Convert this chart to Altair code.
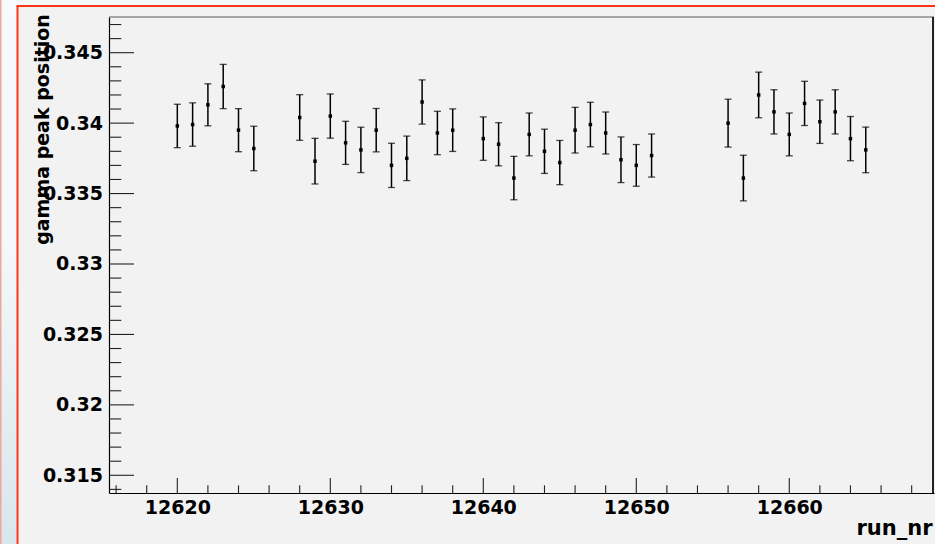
import altair as alt
import pandas as pd

# run numbers and fitted gamma peak positions with their uncertainties
runs = [12620, 12621, 12622, 12623, 12624, 12625,
        12628, 12629, 12630, 12631, 12632, 12633, 12634, 12635, 12636, 12637, 12638,
        12640, 12641, 12642, 12643, 12644, 12645, 12646, 12647, 12648, 12649, 12650, 12651,
        12656, 12657, 12658, 12659, 12660, 12661, 12662, 12663, 12664, 12665]
peak = [0.3398, 0.3399, 0.3413, 0.3426, 0.3395, 0.3382,
        0.3404, 0.3373, 0.3405, 0.3386, 0.3381, 0.3395, 0.3370, 0.3375, 0.3415, 0.3393, 0.3395,
        0.3389, 0.3385, 0.3361, 0.3392, 0.3380, 0.3372, 0.3395, 0.3399, 0.3393, 0.3374, 0.3370, 0.3377,
        0.3400, 0.3361, 0.3420, 0.3408, 0.3392, 0.3414, 0.3401, 0.3408, 0.3389, 0.3381]
err = [0.00154, 0.00154, 0.00149, 0.00157, 0.00153, 0.00158,
       0.00162, 0.00162, 0.00157, 0.00153, 0.00161, 0.00154, 0.00157, 0.00158, 0.00157, 0.00154, 0.00151,
       0.00154, 0.00153, 0.00154, 0.00152, 0.00157, 0.00157, 0.00162, 0.00158, 0.00149, 0.00162, 0.00148, 0.00153,
       0.00170, 0.00162, 0.00162, 0.00157, 0.00152, 0.00157, 0.00154, 0.00157, 0.00157, 0.00162]

# axis tick values
x_major = [12620, 12630, 12640, 12650, 12660]
x_minor = [v for v in range(12616, 12670, 2) if v not in x_major]
y_major = [0.315, 0.32, 0.325, 0.33, 0.335, 0.34, 0.345]
y_minor = [round(0.314 + 0.001 * i, 3) for i in range(34)]
y_minor = [v for v in y_minor if all(abs(v - m) > 1e-9 for m in y_major)]

X_DOMAIN = [12615.535, 12669.46]
Y_DOMAIN = [0.313743, 0.347534]
W, H = 825, 476
FONT = "DejaVu Sans"

df = pd.DataFrame({"run": runs, "peak": peak, "err": err})
df["lo"] = df["peak"] - df["err"]
df["hi"] = df["peak"] + df["err"]

xs = alt.Scale(domain=X_DOMAIN, nice=False, zero=False)
ys = alt.Scale(domain=Y_DOMAIN, nice=False, zero=False)

x_axis = alt.Axis(values=x_major, format="d", tickSize=0, labelPadding=5,
                  labelFont=FONT, labelFontWeight="bold", labelFontSize=19, labelColor="black",
                  domainColor="black", domainWidth=1.2, grid=False,
                  title="run_nr", titleFont=FONT, titleFontWeight="bold", titleFontSize=21,
                  titleColor="black", titleAlign="right", titleAnchor="end",
                  titleX=W - 2, titleY=41, titleBaseline="alphabetic")
y_axis = alt.Axis(values=y_major, format=".3~f", tickSize=0, labelPadding=6.5,
                  labelFont=FONT, labelFontWeight="bold", labelFontSize=19, labelColor="black",
                  domainColor="black", domainWidth=1.2, grid=False,
                  title="gamma peak position", titleFont=FONT, titleFontWeight="bold",
                  titleFontSize=19, titleColor="black", titleAngle=270,
                  titleAlign="center", titleBaseline="alphabetic",
                  titleX=-60.5, titleY=112)


def X(field):
    return alt.X(field, type="quantitative", scale=xs, axis=x_axis, title="run_nr")


def Y(field):
    return alt.Y(field, type="quantitative", scale=ys, axis=y_axis, title="gamma peak position")


one = alt.Data(values=[{}])

# canvas decoration: light border strips and red frame
top_strip = alt.Chart(one).mark_rect(color="#f4f8f9", clip=False).encode(
    x=alt.value(-109), x2=alt.value(W + 1), y=alt.value(-17), y2=alt.value(-12))
left_strip = alt.Chart(one).mark_rect(
    clip=False,
    color=alt.LinearGradient(gradient="linear", x1=0, x2=0, y1=0, y2=1,
                             stops=[alt.GradientStop(color="#f7fafa", offset=0),
                                    alt.GradientStop(color="#f3f8f9", offset=0.45),
                                    alt.GradientStop(color="#d8e6ed", offset=1)])
).encode(x=alt.value(-108), x2=alt.value(-92.5), y=alt.value(-17), y2=alt.value(H + 51))
pink_edge = alt.Chart(one).mark_rect(color="#f2a59d", clip=False).encode(
    x=alt.value(-109), x2=alt.value(-107.5), y=alt.value(-17), y2=alt.value(H + 51))
red_left = alt.Chart(one).mark_rule(color="#ff3414", strokeWidth=2, clip=False).encode(
    x=alt.value(-91.5), y=alt.value(-11), y2=alt.value(H + 51))
red_top = alt.Chart(one).mark_rule(color="#ff3414", strokeWidth=2, clip=False).encode(
    x=alt.value(-92.5), x2=alt.value(W + 1), y=alt.value(-11))

# frame lines on top and right of the plot
frame_top = alt.Chart(one).mark_rule(color="#5a5a5a", strokeWidth=1.2, clip=False).encode(
    x=alt.value(0), x2=alt.value(W), y=alt.value(0))
frame_right = alt.Chart(one).mark_rule(color="#222222", strokeWidth=2, clip=False).encode(
    x=alt.value(W - 1), y=alt.value(0), y2=alt.value(H))

# inward-pointing ticks
tick_style = dict(color="#222222", strokeWidth=1.1)
xmaj = alt.Chart(pd.DataFrame({"v": x_major})).mark_rule(**tick_style).encode(
    x=X("v"), y=alt.value(H), y2=alt.value(H - 15))
xmin = alt.Chart(pd.DataFrame({"v": x_minor})).mark_rule(**tick_style).encode(
    x=X("v"), y=alt.value(H), y2=alt.value(H - 7.7))
ymaj = alt.Chart(pd.DataFrame({"v": y_major})).mark_rule(**tick_style).encode(
    y=Y("v"), x=alt.value(0), x2=alt.value(25))
ymin = alt.Chart(pd.DataFrame({"v": y_minor})).mark_rule(**tick_style).encode(
    y=Y("v"), x=alt.value(0), x2=alt.value(12.3))

base = alt.Chart(df)
bars = base.mark_rule(color="black", strokeWidth=1.5).encode(
    x=X("run"), y=Y("lo"), y2="hi:Q")
caps_lo = base.mark_tick(orient="horizontal", size=7, thickness=1.3, color="black").encode(
    x=X("run"), y=Y("lo"))
caps_hi = base.mark_tick(orient="horizontal", size=7, thickness=1.3, color="black").encode(
    x=X("run"), y=Y("hi"))
dots = base.mark_square(color="black", size=12, opacity=1).encode(
    x=X("run"), y=Y("peak"))

chart = alt.layer(
    top_strip, left_strip, pink_edge, red_left, red_top,
    bars, caps_lo, caps_hi, dots,
    xmaj, xmin, ymaj, ymin, frame_top, frame_right,
).properties(
    width=W, height=H,
    autosize=alt.AutoSizeParams(type="none"),
    padding={"left": 109, "top": 17, "right": 1, "bottom": 51},
    background="#f2f2f2",
).configure_view(stroke=None, fill="#f2f2f2")

chart.save("out.html", embed_options={"renderer": "svg", "actions": False})
